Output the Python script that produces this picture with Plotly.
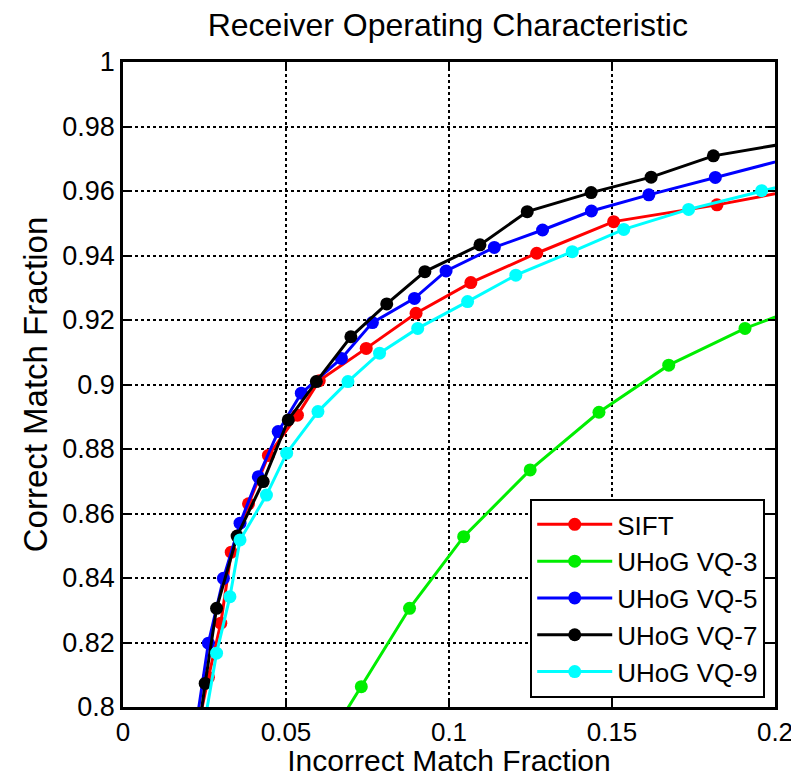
import plotly.graph_objects as go

# ---- data ----
sift_x = [0.0222, 0.0262, 0.0300, 0.0332, 0.0385, 0.0446, 0.0535, 0.0602, 0.0746, 0.0899, 0.1067, 0.1269, 0.1505, 0.1822, 0.2150]
sift_y = [0.7900, 0.8092, 0.8260, 0.8480, 0.8630, 0.8780, 0.8905, 0.9012, 0.9112, 0.9221, 0.9316, 0.9407, 0.9505, 0.9557, 0.9620]

vq3_x = [0.0600, 0.0731, 0.0879, 0.1045, 0.1249, 0.1460, 0.1674, 0.1908, 0.2158]
vq3_y = [0.7850, 0.8063, 0.8306, 0.8528, 0.8735, 0.8914, 0.9060, 0.9174, 0.9269]

vq5_x = [0.0218, 0.0262, 0.0308, 0.0359, 0.0415, 0.0476, 0.0547, 0.0670, 0.0765, 0.0894, 0.0991, 0.1139, 0.1287, 0.1437, 0.1613, 0.1817, 0.2050]
vq5_y = [0.7900, 0.8198, 0.8399, 0.8570, 0.8714, 0.8854, 0.8973, 0.9081, 0.9192, 0.9267, 0.9352, 0.9425, 0.9479, 0.9538, 0.9588, 0.9642, 0.9703]

vq7_x = [0.0222, 0.0252, 0.0287, 0.0350, 0.0430, 0.0507, 0.0593, 0.0699, 0.0809, 0.0926, 0.1095, 0.1240, 0.1436, 0.1620, 0.1811, 0.2050]
vq7_y = [0.7850, 0.8073, 0.8306, 0.8530, 0.8699, 0.8890, 0.9009, 0.9148, 0.9250, 0.9350, 0.9433, 0.9536, 0.9595, 0.9643, 0.9709, 0.9750]

vq9_x = [0.0250, 0.0287, 0.0328, 0.0359, 0.0440, 0.0502, 0.0598, 0.0690, 0.0787, 0.0904, 0.1057, 0.1205, 0.1378, 0.1536, 0.1735, 0.1959, 0.2200]
vq9_y = [0.7950, 0.8167, 0.8342, 0.8518, 0.8657, 0.8787, 0.8916, 0.9009, 0.9097, 0.9174, 0.9257, 0.9339, 0.9412, 0.9481, 0.9543, 0.9601, 0.9660]

series_names = ["SIFT", "UHoG VQ-3", "UHoG VQ-5", "UHoG VQ-7", "UHoG VQ-9"]
series_colors = ["#ff0000", "#00ee00", "#0000ff", "#000000", "#00ffff"]

x_tickvals = [0, 0.05, 0.1, 0.15, 0.2]
x_ticktext = ["0", "0.05", "0.1", "0.15", "0.2"]
y_tickvals = [0.8, 0.82, 0.84, 0.86, 0.88, 0.9, 0.92, 0.94, 0.96, 0.98, 1.0]
y_ticktext = ["0.8", "0.82", "0.84", "0.86", "0.88", "0.9", "0.92", "0.94", "0.96", "0.98", "1"]

FONT = "Liberation Sans, Arial, Helvetica, sans-serif"

fig = go.Figure()
all_x = [sift_x, vq3_x, vq5_x, vq7_x, vq9_x]
all_y = [sift_y, vq3_y, vq5_y, vq7_y, vq9_y]
for name, color, xs, ys in zip(series_names, series_colors, all_x, all_y):
    fig.add_trace(go.Scatter(
        x=xs, y=ys, name=name, mode="lines+markers",
        line=dict(color=color, width=3),
        marker=dict(color=color, size=13, symbol="circle"),
    ))

axis_common = dict(
    showline=True, linecolor="black", linewidth=2.5, mirror="ticks",
    showgrid=True, gridcolor="black", gridwidth=2, griddash="dot",
    zeroline=False, ticks="inside", ticklen=7, tickwidth=2, tickcolor="black",
    automargin=False, ticklabeloverflow="allow",
)

fig.update_xaxes(
    range=[0, 0.2], tickvals=x_tickvals, ticktext=x_ticktext, ticklabelstandoff=0,
    tickfont=dict(family=FONT, size=26, color="black"),
    title=dict(text="Incorrect Match Fraction", font=dict(family=FONT, size=30, color="black"), standoff=5),
    **axis_common,
)
fig.update_yaxes(
    range=[0.8, 1.0], tickvals=y_tickvals, ticktext=y_ticktext,
    tickfont=dict(family=FONT, size=27, color="black"),
    title=dict(text="Correct Match Fraction", font=dict(family=FONT, size=33, color="black"), standoff=5),
    **axis_common,
)

fig.update_layout(
    width=791, height=769,
    margin=dict(l=115, r=24, t=54, b=70),
    paper_bgcolor="white", plot_bgcolor="white",
    title=dict(text="Receiver Operating Characteristic", x=0.556, xanchor="center",
               y=0.978, yanchor="middle",
               font=dict(family=FONT, size=32, color="black")),
    showlegend=True,
    legend=dict(
        x=0.985, y=0.014, xanchor="right", yanchor="bottom",
        bgcolor="white", bordercolor="black", borderwidth=2,
        font=dict(family=FONT, size=26, color="black"),
        tracegroupgap=0, itemwidth=75,
    ),
)

fig.write_html("out.html")
